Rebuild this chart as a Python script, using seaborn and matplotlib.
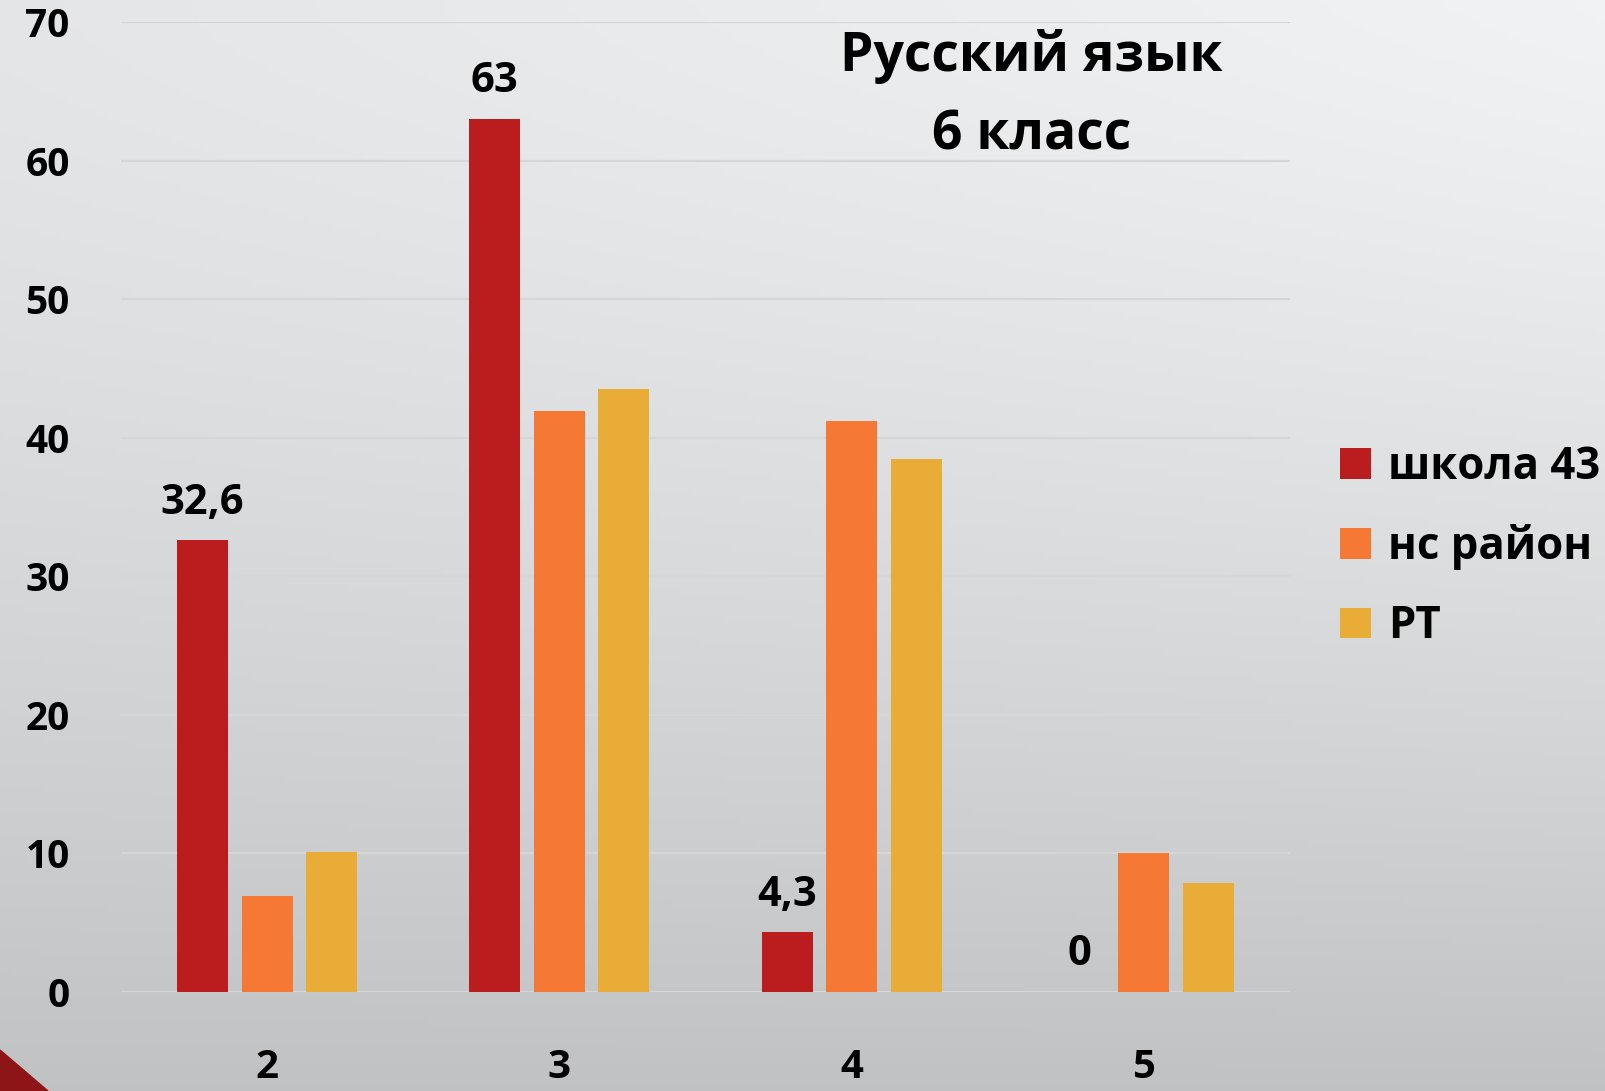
import numpy as np
import pandas as pd
import matplotlib
matplotlib.use('Agg')
import matplotlib.pyplot as plt
import seaborn as sns
from matplotlib.patches import Polygon

grades = ["2", "3", "4", "5"]
series = ["школа 43", "нс район", "РТ"]
school = [32.6, 63, 4.3, 0]
district = [6.9, 41.9, 41.2, 10.0]
republic = [10.1, 43.5, 38.5, 7.9]
school_labels = ["32,6", "63", "4,3", "0"]
y_ticks = [0, 10, 20, 30, 40, 50, 60, 70]
colors = ["#bb1c1e", "#f67835", "#e9ac36"]

df = pd.DataFrame({
    "grade": grades * 3,
    "group": [s for s in series for _ in grades],
    "value": school + district + republic,
})

sns.set_theme(style="white")
plt.rcParams['font.family'] = ['Open Sans', 'DejaVu Sans']
plt.rcParams['font.weight'] = 'bold'
plt.rcParams['text.color'] = 'black'
plt.rcParams['xtick.color'] = 'black'
plt.rcParams['ytick.color'] = 'black'

fig = plt.figure(figsize=(16.06, 10.91), dpi=100)

# gradient background
bg = fig.add_axes([0, 0, 1, 1], zorder=-10)
yy, xx = np.mgrid[0:1:200j, 0:1:300j]
shade = 0.955 - 0.19 * yy ** 1.3 - 0.05 * (1 - xx) * (1 - yy)
bg.imshow(np.dstack([shade - 0.01, shade - 0.005, shade]).clip(0, 1), aspect='auto', extent=[0, 1, 0, 1], origin='upper')
bg.add_patch(Polygon([[0, 0], [0, 41 / 1091], [48 / 1606, 0]], closed=True, color="#8e1517", transform=bg.transAxes))
bg.set_axis_off()

ax = fig.add_axes([121 / 1606, 1 - 992 / 1091, (1290 - 121) / 1606, (992 - 22) / 1091])
ax.patch.set_alpha(0)
sns.barplot(data=df, x="grade", y="value", hue="group", palette=colors,
            width=0.663, gap=0.21, saturation=1, linewidth=0, ax=ax, legend=True)

ax.set_ylim(0, 70)
ax.set_xlim(-0.5, 3.5)
ax.set_yticks(y_ticks)
ax.yaxis.grid(True, color="#d6d6d6", linewidth=1.6)
ax.set_axisbelow(True)
for s in ax.spines.values():
    s.set_visible(False)
ax.set_xlabel("")
ax.set_ylabel("")
ax.tick_params(axis='y', length=0, pad=37, labelsize=28)
ax.tick_params(axis='x', length=0, pad=40, labelsize=29)

# value labels for school
for container in ax.containers[:1]:
    ax.bar_label(container, labels=school_labels, padding=12, fontsize=30, fontweight='bold')

ax.text(0.779, 0.993, "Русский язык\n6 класс", transform=ax.transAxes, ha='center', va='top',
        fontsize=38.5, fontweight='bold', linespacing=1.6)

leg = ax.legend(loc='upper left', bbox_to_anchor=(1.028, 0.582), frameon=False,
                fontsize=31.5, handlelength=0.7, handleheight=0.7, handletextpad=0.4,
                labelspacing=0.78, borderaxespad=0)
for t in leg.get_texts():
    t.set_fontweight('bold')

fig.savefig("out.png", dpi=100)
